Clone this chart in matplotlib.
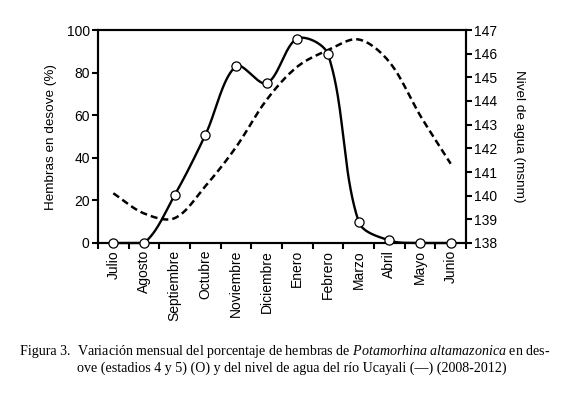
import numpy as np
import matplotlib
matplotlib.use("Agg")
import matplotlib.pyplot as plt

months = ["Julio", "Agosto", "Septiembre", "Octubre", "Noviembre", "Diciembre",
          "Enero", "Febrero", "Marzo", "Abril", "Mayo", "Junio"]
pct_desove = [0, 0, 22.5, 50.7, 83, 75, 96, 88.6, 10, 1.2, 0, 0]
nivel_agua = [140.1, 139.25, 139.05, 140.4, 142.05, 144.05, 145.45, 146.15, 146.6, 145.65, 143.4, 141.35]

def smooth_line(y, sx, sy, n=40):
    """Excel-like smoothed line: cubic Bezier with tangents split by
    segment length, computed in a screen-proportional space (sx, sy)."""
    P = np.column_stack([np.arange(len(y)) * sx, np.asarray(y, float) * sy])
    N = len(P)
    cin = np.zeros_like(P)
    cout = np.zeros_like(P)
    for i in range(N):
        if i == 0:
            cout[i] = P[0] + (P[1] - P[0]) / 3
            continue
        if i == N - 1:
            cin[i] = P[i] - (P[i] - P[i - 1]) / 3
            continue
        T = P[i + 1] - P[i - 1]
        d1 = np.hypot(*(P[i] - P[i - 1]))
        d2 = np.hypot(*(P[i + 1] - P[i]))
        cin[i] = P[i] - T * d1 / (d1 + d2) / 3
        cout[i] = P[i] + T * d2 / (d1 + d2) / 3
    t = np.linspace(0, 1, n)[:, None]
    pts = []
    for i in range(N - 1):
        b = ((1 - t) ** 3 * P[i] + 3 * (1 - t) ** 2 * t * cout[i]
             + 3 * (1 - t) * t ** 2 * cin[i + 1] + t ** 3 * P[i + 1])
        pts.append(b)
    pts = np.vstack(pts)
    return pts[:, 0] / sx, pts[:, 1] / sy

plt.rcParams['font.family'] = ['Liberation Sans', 'DejaVu Sans']
plt.rcParams['mathtext.fontset'] = 'custom'
plt.rcParams['mathtext.rm'] = 'Liberation Serif'
plt.rcParams['mathtext.it'] = 'Liberation Serif:italic'

fig = plt.figure(figsize=(5.64, 3.99), dpi=100)
ax = fig.add_axes([98/564, 1 - 243/399, 368/564, 213/399])
ax2 = ax.twinx()

x = np.arange(len(months))

# water level (dashed) on right axis
xs, ys = smooth_line(nivel_agua, 30.67, 213/9)
ax2.plot(xs, ys, color='black', lw=1.8, dashes=(2.8, 1.6))
ax2.set_ylim(138, 147)
ax2.set_yticks(range(138, 148))
ax2.set_ylabel("Nivel de agua (msnm)", rotation=-90, labelpad=20, fontsize=9.7)

# spawning percentage (solid + markers) on left axis
xs, ys = smooth_line(pct_desove, 30.67, 2.13)
ys = np.maximum(ys, 0)
ax.plot(xs, ys, color='black', lw=1.7, clip_on=False)
ax.plot(x, pct_desove, 'o', ms=6.6, mfc='white', mec='black', mew=0.9,
        clip_on=False, zorder=5)
ax.set_ylim(0, 100)
ax.set_yticks(range(0, 101, 20))
ax.set_ylabel("Hembras en desove (%)", fontsize=9.7, labelpad=7)
ax.set_xlim(-0.5, len(months) - 0.5)
ax.set_xticks(np.arange(-0.5, len(months), 1.0))
ax.set_xticklabels([])
ax.set_xticks(x, minor=True)
ax.set_xticklabels(months, minor=True, rotation=90, fontsize=10)
ax.tick_params(axis='x', which='minor', length=0, pad=5)
ax.tick_params(axis='x', which='major', length=4, width=1.5, direction='out')

ax.set_zorder(ax2.get_zorder() + 1)
ax.patch.set_visible(False)

for a in (ax, ax2):
    for s in a.spines.values():
        s.set_linewidth(1.5)
        s.set_color('black')
ax.tick_params(axis='y', length=4, width=1.5, labelsize=10, pad=2)
ax2.tick_params(axis='y', length=4, width=1.5, labelsize=10, pad=2)

serif = ['Liberation Serif', 'DejaVu Serif']
fs = 10.1
fig.text(20/564, 1 - 355/399, "Figura 3.", family=serif, fontsize=fs, va='baseline')
fig.text(77/564, 1 - 355/399,
         "Variación mensual del porcentaje de hembras de $\\it{Potamorhina\\ altamazonica}$ en des-",
         family=serif, fontsize=fs, va='baseline')
fig.text(77/564, 1 - 372/399,
         "ove (estadios 4 y 5) (O) y del nivel de agua del río Ucayali (—) (2008-2012)",
         family=serif, fontsize=fs, va='baseline')

fig.savefig("out.png", dpi=100, facecolor='white')
